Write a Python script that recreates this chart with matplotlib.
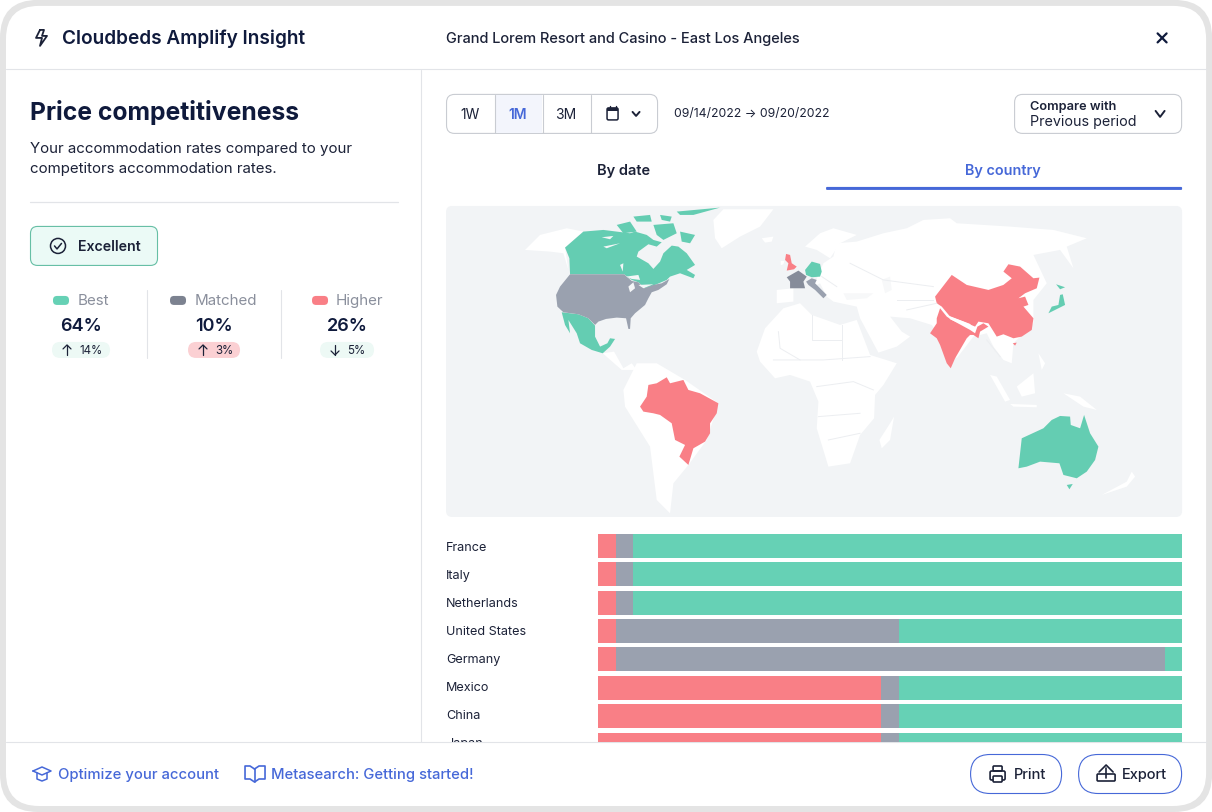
import numpy as np
import matplotlib
matplotlib.use("Agg")
import matplotlib.pyplot as plt
from matplotlib.patches import FancyBboxPatch, Circle, Polygon

plt.rcParams["font.family"] = ["Inter", "DejaVu Sans"]

NAVY = "#0f1a3c"
INK = "#1c2238"
BLUE = "#4668d8"
GREEN = "#66d1b5"
GREY = "#9aa1af"
RED = "#f97f86"
RULE = "#e2e4e8"
PANEL = "#f2f4f6"

# stacked bars, percent of the row
COUNTRIES = ["France", "Italy", "Netherlands", "United States", "Germany", "Mexico", "China", "Japan"]
HIGHER = [3, 3, 3, 3, 3, 48.5, 48.5, 48.5]
MATCHED = [3, 3, 3, 48.5, 94, 3, 3, 3]
BEST = [94, 94, 94, 48.5, 3, 48.5, 48.5, 48.5]

STAT_NAMES = ["Best", "Matched", "Higher"]
STAT_VALUES = ["64%", "10%", "26%"]
STAT_DELTAS = ["14%", "3%", "5%"]
STAT_UP = [True, True, False]

# map outlines, traced at 3x from (440, 200)
USA = [(390,223),(552,223),(575,243),(595,247),(612,265),(640,255),(665,250),(688,237),(680,253),(655,270),(635,277),(625,295),(615,315),(585,340),(572,355),(570,387),(565,387),(558,355),(530,353),(498,357),(475,365),(465,375),(445,355),(415,343),(370,337),(352,320),(348,285),(360,260)]
CANADA = [(375,143),(430,95),(490,90),(570,100),(585,95),(620,105),(640,120),(665,127),(650,140),(625,133),(595,155),(590,170),(625,190),(640,207),(660,185),(670,160),(695,137),(715,140),(740,160),(765,195),(740,210),(765,225),(760,235),(720,220),(690,230),(680,240),(645,255),(615,265),(595,247),(575,240),(552,223),(390,223),(388,175)]
CANADA_ISLANDS = [
    [(530,75),(570,65),(590,95),(550,100)],
    [(580,50),(630,45),(635,65),(590,65)],
    [(640,75),(700,70),(710,100),(670,120),(650,105)],
    [(710,35),(840,23),(760,45),(720,45)],
    [(720,95),(765,105),(750,130),(725,125)],
    [(660,45),(695,50),(690,65),(665,60)],
]
LAKES = [
    [(558,230),(595,225),(600,240),(575,237)],
    [(565,260),(580,247),(585,265),(570,277)],
    [(595,255),(640,253),(610,265)],
    [(485,112),(520,108),(510,118)],
    [(490,140),(540,130),(500,145)],
    [(540,195),(550,190),(548,215)],
]
MEXICO = [(365,337),(415,343),(445,355),(465,377),(465,410),(480,440),(502,430),(510,415),(525,417),(510,440),(488,460),(455,450),(420,430),(410,400),(385,360),(390,400),(375,375)]
BRAZIL = [(600,620),(620,590),(625,555),(650,550),(680,532),(690,550),(730,540),(745,570),(780,580),(835,610),(830,640),(810,670),(810,700),(795,725),(760,745),(745,795),(718,770),(735,735),(705,720),(695,670),(660,645),(640,640),(610,635)]
FRANCE = [(1040,232),(1075,212),(1100,230),(1090,245),(1095,265),(1065,265),(1050,265),(1050,245)]
ITALY = [(1098,245),(1115,235),(1130,240),(1125,250),(1160,285),(1150,295),(1125,270),(1105,255)]
GERMANY = [(1095,210),(1115,185),(1140,192),(1145,215),(1140,230),(1115,232),(1098,225)]
UK = [(1038,162),(1050,165),(1055,190),(1070,200),(1062,208),(1040,212),(1045,190),(1035,180)]
IRELAND = [(1022,183),(1033,183),(1030,193),(1022,196)]
ALASKA = [(255,150),(300,105),(380,85),(430,95),(375,143),(385,210),(370,160),(330,155)]
GREENLAND = [(820,60),(850,28),(1000,28),(960,80),(900,110),(845,145),(825,115)]
ICELAND = [(965,115),(1000,110),(995,125),(975,128)]
CENTRAL = [(488,460),(522,455),(550,505),(575,490),(590,510),(545,510)]
SOUTH_AM = [(550,570),(590,490),(650,490),(735,540),(835,610),(800,720),(745,795),(700,850),(690,940),(650,900),(630,740),(555,620)]
SPAIN = [(1010,270),(1060,265),(1060,305),(1010,310)]
AFRICA = [(950,455),(975,385),(1030,325),(1080,310),(1115,345),(1200,375),(1250,360),(1290,465),(1370,490),(1330,555),(1305,585),(1302,655),(1260,705),(1230,790),(1165,800),(1130,685),(1135,605),(1110,545),(1050,525),(1005,535),(960,485)]
SCANDINAVIA = [(1095,140),(1140,100),(1180,85),(1250,105),(1200,130),(1170,175),(1130,150)]
EURASIA = [(1120,260),(1150,190),(1180,170),(1190,130),(1250,125),(1330,100),(1400,85),(1450,60),(1530,55),(1550,70),(1710,80),(1840,90),(1940,115),(1880,140),(1900,205),(1860,150),(1780,165),(1820,250),(1780,300),(1780,370),(1720,430),(1715,490),(1690,480),(1660,440),(1640,400),(1600,410),(1550,475),(1475,375),(1410,355),(1350,350),(1385,395),(1410,410),(1370,440),(1315,458),(1260,355),(1250,320),(1180,305),(1160,290),(1140,250)]
SEAS = [
    [(1210,280),(1300,280),(1280,295),(1220,300)],
    [(1325,240),(1350,230),(1355,270),(1335,280)],
]
NEPAL = [(1525,347),(1590,372),(1600,387),(1580,380),(1530,358)]
INDONESIA = [
    [(1650,525),(1670,530),(1710,600),(1695,605)],
    [(1730,560),(1780,520),(1785,580),(1745,590)],
    [(1710,612),(1790,615),(1790,622),(1720,620)],
    [(1795,460),(1815,490),(1805,510)],
]
PNG = [(1870,580),(1920,590),(1970,630),(1930,620)]
MADAGASCAR = [(1350,670),(1362,650),(1350,720),(1325,745),(1318,720)]
NEW_ZEALAND = [[(1985,885),(2060,845),(2075,815),(2085,830),(2060,860)]]
CHINA = [(1485,290),(1535,225),(1580,255),(1645,270),(1690,255),(1715,235),(1690,215),(1705,193),(1740,200),(1780,235),(1798,233),(1790,265),(1755,280),(1735,295),(1755,290),(1765,315),(1750,320),(1780,355),(1775,390),(1745,410),(1720,415),(1690,403),(1670,410),(1645,370),(1615,365),(1605,380),(1570,365),(1530,350),(1505,320),(1490,310)]
INDIA = [(1500,325),(1520,350),(1535,360),(1590,390),(1605,400),(1612,380),(1630,370),(1645,380),(1620,395),(1615,415),(1600,405),(1590,405),(1580,415),(1545,475),(1532,505),(1520,490),(1500,435),(1490,415),(1470,400),(1490,370),(1490,355)]
HAINAN = [(1718,430),(1730,428),(1725,437)]
JAPAN = [[(1825,340),(1835,320),(1855,315),(1860,285),(1868,283),(1875,315),(1845,330)], [(1848,253),(1875,262),(1860,268)]]
AUSTRALIA = [(1735,805),(1745,715),(1810,685),(1835,660),(1860,648),(1890,650),(1892,675),(1920,685),(1932,645),(1950,700),(1975,740),(1965,780),(1940,815),(1910,835),(1870,825),(1858,790),(1800,785),(1760,800)]
TASMANIA = [(1880,855),(1898,852),(1888,868)]
BORDERS = [
    [(1015,395),(1020,445),(1080,480)], [(1115,345),(1115,420),(1205,420)], [(1205,375),(1205,480)],
    [(1000,480),(1150,480),(1290,470)], [(1130,560),(1240,545),(1300,570)], [(1135,650),(1260,640)],
    [(1165,720),(1260,700)], [(1230,190),(1330,240),(1480,260)], [(1370,300),(1480,300)],
    [(1400,330),(1490,310)], [(1640,420),(1680,470)], [(1145,230),(1190,260)],
]

fig = plt.figure(figsize=(12.121, 8.121), dpi=100, facecolor="white")
ax = fig.add_axes([0, 0, 1, 1])
ax.set_xlim(0, 1212)
ax.set_ylim(812, 0)
ax.axis("off")


def rbox(x0, y0, x1, y1, r, fc="white", ec="none", lw=0.72, z=2):
    p = FancyBboxPatch((x0, y0), x1 - x0, y1 - y0, boxstyle=f"round,pad=0,rounding_size={r}",
                       fc=fc, ec=ec, lw=lw, zorder=z)
    ax.add_patch(p)
    return p


def line(xs, ys, c=INK, lw=1.2, z=5):
    ax.plot(xs, ys, color=c, lw=lw, zorder=z, solid_capstyle="round", solid_joinstyle="round")


def label(x, y, s, size=10, c=INK, weight="normal", ha="left"):
    ax.text(x, y + 1, s, fontsize=size, color=c, fontweight=weight, ha=ha, va="center", zorder=6)


def chevron(cx, cy, w=4.5, h=3, c=INK, lw=1.4):
    line([cx - w, cx, cx + w], [cy - h, cy + h, cy - h], c, lw)


def arrow(cx, cy, up, c=INK):
    s = -1 if up else 1
    line([cx, cx], [cy - 5, cy + 5], c, 0.9)
    line([cx - 4, cx, cx + 4], [cy + s * 1, cy + s * 5, cy + s * 1], c, 0.9)


# card
rbox(0, 0, 1212, 812, 38, fc="#e4e4e4", z=0)
rbox(6, 6, 1206, 806, 33, fc="white", z=1)
line([6, 1206], [69.5, 69.5], RULE, 0.8, 3)
line([6, 1206], [742.5, 742.5], RULE, 0.8, 8)
line([421, 421], [70, 742], RULE, 0.8, 3)

# header
line([40, 36, 42, 40, 47, 42, 44, 40], [30, 38, 38, 46, 36, 36, 30, 30], INK, 1.3)
label(62, 37.5, "Cloudbeds Amplify Insight", 13.7, NAVY, "semibold")
label(446, 37.5, "Grand Lorem Resort and Casino - East Los Angeles", 10.5, INK, "medium")
line([1157.5, 1166.5], [33.5, 42.5], NAVY, 1.6)
line([1157.5, 1166.5], [42.5, 33.5], NAVY, 1.6)

# left column
label(30, 111.5, "Price competitiveness", 17.8, NAVY, "bold")
label(30, 148, "Your accommodation rates compared to your", 10.85, INK)
label(30, 168, "competitors accommodation rates.", 10.85, INK)
line([30, 398], [202, 202], RULE, 0.9)
rbox(30.5, 226.5, 157.5, 265.5, 7, fc="#ebfaf6", ec="#66bfa5", lw=0.8)
ax.add_patch(Circle((58, 246), 7.5, fc="none", ec=INK, lw=1.1, zorder=5))
line([54.5, 57, 61.5], [246, 249, 243.5], INK, 1.1)
label(78, 245.5, "Excellent", 10.2, INK, "semibold")

stat_x = [(53, 78, 80.5, 52, 110), (170, 195, 214, 188, 240), (312, 336, 347, 320, 374)]
stat_col = [GREEN, "#7c8290", RED]
pill_col = ["#edf9f5", "#fbd0d3", "#edf9f5"]
for i, (sx, tx, cx, p0, p1) in enumerate(stat_x):
    rbox(sx, 296, sx + 16, 305, 4, fc=stat_col[i])
    label(tx, 300, STAT_NAMES[i], 10.9, "#8a8f9c")
    label(cx, 325.5, STAT_VALUES[i], 13, NAVY, "semibold", "center")
    rbox(p0, 342, p1, 358, 8, fc=pill_col[i])
    arrow(p0 + 15, 350, STAT_UP[i])
    label(p0 + 27, 349.5, STAT_DELTAS[i], 8.3, INK)
for x in (147, 281):
    line([x, x], [290, 358], RULE, 0.8)

# range selector
rbox(446.5, 94.5, 657.5, 133.5, 8, ec="#c9ccd2", lw=0.8)
ax.fill_between([495, 542], 95, 133, color="#f3f5fc", zorder=3, lw=0)
for x in (494.5, 542.5, 590.5):
    line([x, x], [95, 133], "#c9ccd2", 0.8)
label(470, 113.5, "1W", 10, INK, ha="center")
label(518, 113.5, "1M", 10, BLUE, "semibold", "center")
label(566, 113.5, "3M", 10, INK, ha="center")
rbox(607, 108, 618, 120, 1.5, fc="none", ec=INK, lw=1.1, z=5)
ax.fill_between([607, 618], 108, 111.5, color=INK, zorder=5, lw=0)
line([609.5, 609.5], [106, 109], INK, 1)
line([615.5, 615.5], [106, 109], INK, 1)
chevron(636, 114, 3.5, 2)
label(674, 113, "09/14/2022 → 09/20/2022", 8.8, INK)
rbox(1014.5, 94.5, 1181.5, 133.5, 8, ec="#c9ccd2", lw=0.8)
label(1030, 105.5, "Compare with", 9.2, INK, "semibold")
label(1030, 120.5, "Previous period", 10.3, INK)
chevron(1160, 114)

# tabs
label(624, 169.5, "By date", 10.5, INK, "semibold", "center")
label(1003, 169.5, "By country", 10.4, BLUE, "semibold", "center")
rbox(826, 187, 1182, 190, 1, fc=BLUE)

# map, drawn in trace units
rbox(446, 206, 1182, 517, 6, fc=PANEL)
m = fig.add_axes([446 / 1212, 1 - 517 / 812, 736 / 1212, 311 / 812])
m.set_xlim(18, 2226)
m.set_ylim(951, 18)
m.axis("off")


def shape(points, color):
    m.add_patch(Polygon(points, closed=True, fc=color, ec="none"))


for s in [ALASKA, GREENLAND, ICELAND, CENTRAL, SOUTH_AM, SPAIN, IRELAND, AFRICA, SCANDINAVIA, EURASIA, PNG, MADAGASCAR] + INDONESIA + NEW_ZEALAND:
    shape(s, "white")
for s in SEAS:
    shape(s, "#f7f8f9")
for b in BORDERS:
    m.plot(*zip(*b), color="#eceef1", lw=0.7)
for s in [CANADA, MEXICO, GERMANY, AUSTRALIA, TASMANIA] + CANADA_ISLANDS + JAPAN:
    shape(s, "#64cdb2")
for s in [USA, ITALY]:
    shape(s, GREY)
shape(FRANCE, "#868c9a")
for s in LAKES:
    shape(s, "#f4f6f7")
for s in [BRAZIL, CHINA, INDIA, UK, HAINAN]:
    shape(s, RED)
shape(NEPAL, "white")

# country bars, clipped by the footer; rows are 28.36 px apart, their names 28 px
ROW_PX = 28.36
b = fig.add_axes([446 / 1212, 1 - 742 / 812, 736 / 1212, 208 / 812])
b.set_xlim(-152 / 5.84, 100)
b.set_ylim(-12 / ROW_PX + 208 / ROW_PX, -12 / ROW_PX)
b.axis("off")
rows = np.arange(len(COUNTRIES))
high = np.array(HIGHER)
match = np.array(MATCHED)
best = np.array(BEST)
b.barh(rows, high, height=24 / ROW_PX, color=RED)
b.barh(rows, match, left=high, height=24 / ROW_PX, color=GREY)
b.barh(rows, best, left=high + match, height=24 / ROW_PX, color=GREEN)
for r, name in zip(rows, COUNTRIES):
    b.text(-152 / 5.84, (r * 28 + 2) / ROW_PX, name, fontsize=9.1, color=INK, va="center", ha="left", clip_on=True)

# footer
line([33, 42, 51, 42, 33], [771, 767, 771, 775, 771], BLUE, 1.1)
line([37, 37, 42, 47, 47], [773, 779, 781, 779, 773], BLUE, 1.1)
label(58, 773.5, "Optimize your account", 10.65, BLUE, "medium")
line([254.5, 250, 245, 245, 250, 254.5, 259, 265, 265, 259, 254.5], [769, 766, 766, 779, 779, 782, 779, 779, 766, 766, 769], BLUE, 1.2)
line([254.5, 254.5], [769, 782], BLUE, 1.2)
label(271, 773.5, "Metasearch: Getting started!", 10.65, BLUE, "medium")
rbox(970.5, 754.5, 1061.5, 793.5, 19.5, ec=BLUE, lw=0.8)
rbox(1078.5, 754.5, 1181.5, 793.5, 19.5, ec=BLUE, lw=0.8)
rbox(990, 771, 1005, 780, 1.5, fc="none", ec=INK, lw=1.2, z=5)
rbox(993, 766, 1002, 771, 1, fc="none", ec=INK, lw=1.2, z=5)
rbox(993, 776, 1002, 782, 1, fc="white", ec=INK, lw=1.2, z=5)
label(1014, 773.5, "Print", 10.5, INK, "medium")
rbox(1097, 774, 1115, 781, 1, fc="none", ec=INK, lw=1.2, z=5)
line([1106, 1106], [778, 768], INK, 1.2)
line([1099, 1106, 1113], [772, 765, 772], INK, 1.2)
label(1122, 773.5, "Export", 10.5, INK, "medium")

fig.savefig("out.png", dpi=100)
